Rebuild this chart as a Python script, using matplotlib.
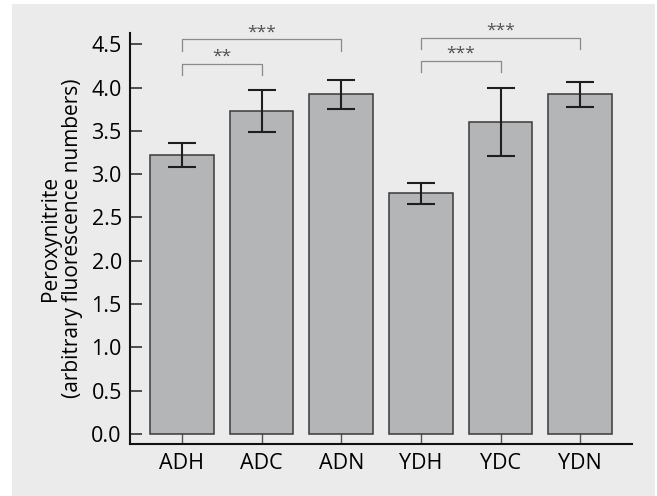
import numpy as np
import matplotlib.pyplot as plt
from matplotlib.patches import Rectangle

groups = ["ADH", "ADC", "ADN", "YDH", "YDC", "YDN"]
means = [3.22, 3.73, 3.92, 2.78, 3.60, 3.92]
errors = [0.135, 0.245, 0.17, 0.12, 0.39, 0.145]

# significance brackets: (left group, right group, bar height, leg end, label)
brackets = [
    (0, 2, 4.555, 4.42, "***"),
    (0, 1, 4.275, 4.15, "**"),
    (3, 5, 4.573, 4.44, "***"),
    (3, 4, 4.31, 4.18, "***"),
]

plt.rcParams['font.family'] = ['Open Sans', 'DejaVu Sans']

panel = "#ebebeb"
fig = plt.figure(figsize=(6.57, 4.96), dpi=100)
fig.patch.set_facecolor("white")
bg = Rectangle((12 / 657, 0), 643 / 657, 492 / 496, transform=fig.transFigure,
               facecolor=panel, edgecolor="none", zorder=-10)
fig.add_artist(bg)

ax = fig.add_axes([0.198, 0.1042, 0.764, 0.8293])
ax.set_facecolor(panel)

x = np.arange(len(groups))
ax.bar(x, means, width=0.8, color="#b4b5b7", edgecolor="#3a3a3a", linewidth=1.1, zorder=2)
ax.errorbar(x, means, yerr=errors, fmt="none", ecolor="#1e1e1e", elinewidth=1.5,
            capsize=10, capthick=1.5, zorder=3)

for i, j, top, leg, label in brackets:
    ax.plot([x[i], x[i], x[j], x[j]], [leg, top, top, leg], color="#8a8a8a", lw=0.9, zorder=2)
    ax.text((x[i] + x[j]) / 2, top - 0.01, label, ha="center", va="bottom",
            fontsize=12.5, color="#505050")

ax.set_xlim(-0.65, 5.65)
ax.set_ylim(-0.12, 4.63)
ax.set_yticks(np.arange(0, 4.51, 0.5))
ax.set_yticklabels([f"{v:.1f}" for v in np.arange(0, 4.51, 0.5)])
ax.set_xticks(x)
ax.set_xticklabels(groups)

for s in ["top", "right"]:
    ax.spines[s].set_visible(False)
for s in ["left", "bottom"]:
    ax.spines[s].set_linewidth(1.5)
    ax.spines[s].set_color("#111111")

ax.tick_params(axis="y", direction="in", length=8.5, width=1.2, color="#333333",
               labelsize=15.5, pad=6)
ax.tick_params(axis="x", direction="in", length=8, width=1.0, color="#555555",
               labelsize=15.5, pad=6)

ax.set_ylabel("Peroxynitrite\n(arbitrary fluorescence numbers)", fontsize=15,
              linespacing=1.05, labelpad=6)

fig.savefig("out.png", dpi=100)
